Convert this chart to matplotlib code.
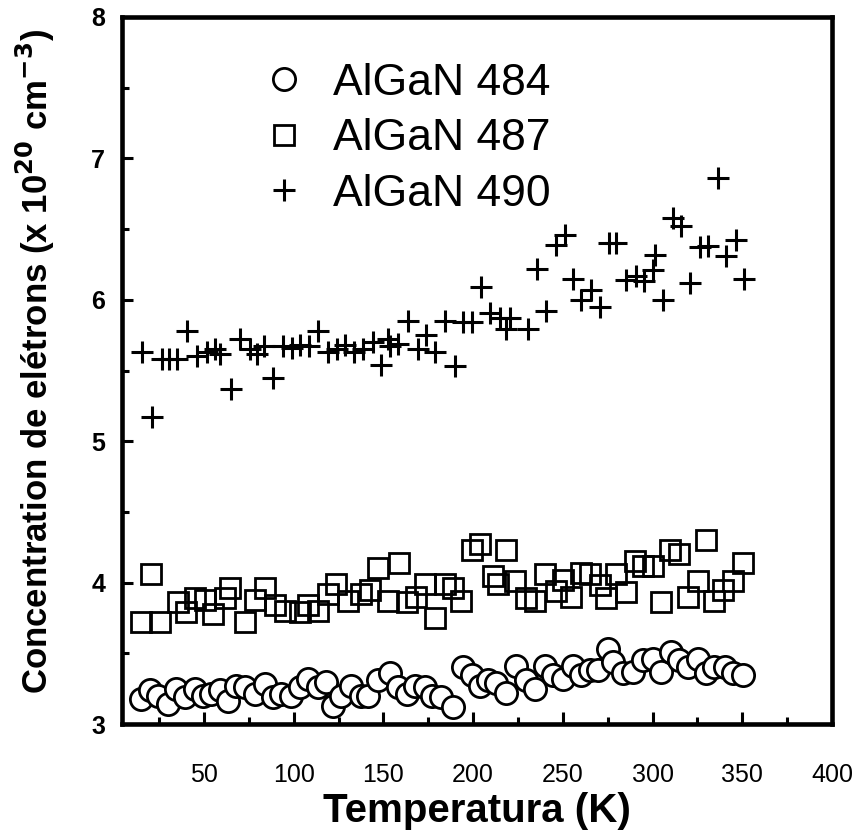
import matplotlib
matplotlib.use("Agg")
import matplotlib.pyplot as plt
from matplotlib.ticker import MultipleLocator

plt.rcParams['font.family'] = ['Liberation Sans', 'DejaVu Sans']

# AlGaN 484 (circles)
t484 = [15.1, 19.8, 24.4, 30.0, 34.6, 39.2, 44.8, 49.4, 54.1, 58.7, 63.4, 68.0, 72.7, 78.2,
        83.8, 88.4, 93.0, 98.6, 103.3, 107.9, 113.5, 118.1, 121.8, 126.5, 132.0, 137.6,
        141.5, 147.0, 153.6, 158.2, 162.9, 167.5, 173.1, 176.8, 182.3, 188.8, 194.4, 199.1,
        203.7, 208.3, 213.0, 218.5, 224.1, 229.7, 234.3, 239.9, 244.5, 250.1, 255.6, 260.3,
        264.9, 269.6, 275.1, 277.9, 283.5, 289.0, 294.6, 300.2, 304.8, 310.4, 315.0, 319.7,
        325.2, 329.9, 334.5, 340.1, 344.7, 350.3]
n484 = [3.18, 3.24, 3.20, 3.14, 3.25, 3.19, 3.25, 3.20, 3.21, 3.24, 3.16, 3.27, 3.26, 3.21,
        3.28, 3.19, 3.21, 3.20, 3.26, 3.32, 3.26, 3.30, 3.13, 3.20, 3.27, 3.20,
        3.20, 3.31, 3.36, 3.26, 3.21, 3.27, 3.26, 3.20, 3.19, 3.12, 3.40, 3.35,
        3.27, 3.31, 3.29, 3.22, 3.41, 3.31, 3.25, 3.41, 3.35, 3.32, 3.41, 3.35,
        3.38, 3.38, 3.53, 3.44, 3.36, 3.37, 3.45, 3.46, 3.37, 3.51, 3.45, 3.40,
        3.46, 3.36, 3.40, 3.40, 3.36, 3.35]

# AlGaN 487 (squares)
t487 = [15.1, 20.7, 25.3, 35.5, 40.2, 44.8, 50.4, 55.0, 61.5, 64.3, 72.7, 78.2, 83.8, 89.4,
        94.9, 103.3, 107.9, 113.5, 119.0, 123.7, 130.2, 137.6, 142.4, 147.0, 152.6, 158.7,
        162.9, 168.4, 173.1, 178.6, 184.2, 188.8, 193.5, 199.1, 203.7, 211.1, 213.9, 218.5,
        223.2, 229.7, 234.3, 239.9, 246.4, 250.1, 254.7, 260.3, 264.9, 270.5, 274.2, 279.8,
        285.4, 290.0, 294.6, 300.2, 304.8, 309.5, 315.0, 319.7, 325.2, 329.9, 334.5, 339.1,
        344.7, 350.3]
n487 = [3.72, 4.06, 3.72, 3.86, 3.79, 3.89, 3.88, 3.78, 3.89, 3.96, 3.72, 3.88, 3.96, 3.84,
        3.80, 3.79, 3.84, 3.80, 3.92, 3.99, 3.87, 3.92, 3.95, 4.10, 3.87, 4.14,
        3.86, 3.90, 3.99, 3.75, 3.99, 3.96, 3.87, 4.23, 4.27, 4.05, 3.99, 4.23,
        4.01, 3.89, 3.87, 4.06, 3.94, 4.02, 3.90, 4.07, 4.06, 3.98, 3.89, 4.06,
        3.93, 4.15, 4.12, 4.12, 3.86, 4.23, 4.20, 3.90, 4.01, 4.30, 3.87, 3.95,
        4.01, 4.14]

# AlGaN 490 (plus)
t490 = [15.6, 20.9, 26.4, 30.7, 34.8, 40.4, 46.3, 51.5, 56.1, 58.9, 64.9, 70.0, 75.6, 79.3,
        83.4, 88.6, 94.2, 98.8, 103.5, 108.5, 113.6, 119.2, 123.9, 128.5, 133.7, 138.7,
        144.3, 148.9, 152.6, 153.6, 158.2, 163.8, 169.3, 174.0, 178.6, 184.2, 189.8, 194.4,
        199.1, 204.6, 209.2, 214.8, 218.5, 220.8, 230.6, 235.6, 240.8, 246.4, 251.0, 255.6,
        260.3, 265.9, 270.5, 275.7, 279.8, 285.4, 290.9, 295.5, 300.2, 301.1, 305.7, 311.3,
        316.0, 320.6, 326.2, 330.8, 336.4, 341.0, 346.6, 351.2]
n490 = [5.63, 5.17, 5.58, 5.58, 5.58, 5.78, 5.60, 5.63, 5.65, 5.62, 5.37, 5.72, 5.65, 5.62,
        5.67, 5.45, 5.67, 5.66, 5.68, 5.67, 5.78, 5.63, 5.65, 5.68, 5.63, 5.65,
        5.70, 5.54, 5.72, 5.67, 5.69, 5.85, 5.65, 5.75, 5.63, 5.85, 5.53, 5.84,
        5.84, 6.09, 5.91, 5.87, 5.79, 5.87, 5.79, 6.22, 5.92, 6.39, 6.46, 6.15,
        6.00, 6.07, 5.95, 6.40, 6.40, 6.14, 6.17, 6.13, 6.21, 6.32, 6.00, 6.58,
        6.52, 6.12, 6.37, 6.38, 6.86, 6.31, 6.42, 6.15]

labels = ["AlGaN 484", "AlGaN 487", "AlGaN 490"]

fig = plt.figure(figsize=(8.56, 8.33), dpi=100)
ax = fig.add_axes([122/856, 1 - 724/833, 710/856, 707/833])

ax.plot(t484, n484, linestyle='none', marker='o', ms=16, mfc='white', mec='black',
        mew=2.0, label=labels[0])
ax.plot(t487, n487, linestyle='none', marker='s', ms=14, mfc='none', mec='black',
        mew=2.0, label=labels[1])
ax.plot(t490, n490, linestyle='none', marker='+', ms=16, color='black',
        mew=2.2, label=labels[2])

ax.set_xlim(4.3, 400)
ax.set_ylim(3, 8)
ax.xaxis.set_major_locator(MultipleLocator(50))
ax.xaxis.set_minor_locator(MultipleLocator(25))
ax.yaxis.set_major_locator(MultipleLocator(1))
ax.yaxis.set_minor_locator(MultipleLocator(0.5))

for s in ax.spines.values():
    s.set_linewidth(3.3)

ax.tick_params(axis='both', which='both', direction='in', top=False, right=False)
ax.tick_params(axis='x', which='major', length=9, width=2.2, pad=28, labelsize=18)
ax.tick_params(axis='x', which='minor', length=5, width=2.2)
ax.tick_params(axis='y', which='major', length=8, width=2.2, pad=12, labelsize=18)
ax.tick_params(axis='y', which='minor', length=5, width=2.2)
for lab in ax.get_yticklabels():
    lab.set_fontweight('bold')

ax.set_xlabel("Temperatura (K)", fontsize=29, fontweight='bold', labelpad=4)
ax.set_ylabel(r"Concentration de elétrons (x 10$^{\mathbf{20}}$ cm$^{\mathbf{-3}}$)",
              fontsize=25, fontweight='bold')
ax.yaxis.set_label_coords(-0.092, 0.513)

leg = ax.legend(loc='upper left', bbox_to_anchor=(0.14, 0.992), frameon=False,
                fontsize=32, handletextpad=0.62, labelspacing=0.33, markerscale=1.0,
                handlelength=1.0)

fig.savefig("out.png", dpi=100)
